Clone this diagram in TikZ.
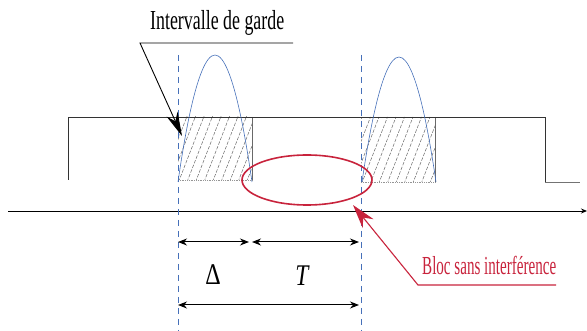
\documentclass[tikz,border=0pt]{standalone}
\usepackage{graphicx}
\usepackage{fontspec}
\setmainfont{Liberation Serif}
\usepackage{tikz}
\usetikzlibrary{arrows.meta,positioning,calc}
\definecolor{guardblue}{RGB}{70,112,185}
\definecolor{markred}{RGB}{200,35,60}
\definecolor{hatchgray}{RGB}{105,105,105}
\newcommand{\squeeze}[2]{\scalebox{#1}[1]{#2}}

\begin{document}
\begin{tikzpicture}[x=1pt, y=-1pt,
  sig/.style={draw=black!80, line width=0.8pt},
  marker/.style={guardblue, dash pattern=on 6pt off 5pt, line width=0.8pt},
  arch/.style={guardblue, line width=0.6pt},
  hatch/.style={hatchgray, line width=0.5pt, dash pattern=on 3.5pt off 1.5pt},
  dim/.style={{Stealth[length=9pt,width=7pt]}-{Stealth[length=9pt,width=7pt]}, line width=1pt},
  callout/.style={-{Stealth[length=24pt,width=12pt]}, line width=0.9pt},
  lbl/.style={inner sep=0pt, font=\fontsize{27.5}{30}\selectfont}
]
  \useasboundingbox (0,0) rectangle (587,331);

  % time axis
  \coordinate (axl) at (8,211);
  \coordinate (axr) at (587,211);
  \draw[-{Stealth[length=6pt,width=5pt]}, line width=0.9pt] (axl) -- (axr);

  % hatched guard intervals
  \begin{scope}
    \clip (178,117) rectangle (252,180);
    \foreach \k in {0,...,12} \draw[hatch] (153+8.5*\k,182) -- ++(26,-67);
  \end{scope}
  \begin{scope}
    \clip (361,117) rectangle (435,182);
    \foreach \k in {0,...,12} \draw[hatch] (336+8.5*\k,184) -- ++(26,-67);
  \end{scope}
  \draw[hatchgray, line width=0.6pt] (252,117) -- (252,180);
  \draw[hatchgray, line width=0.6pt] (435,117) -- (435,182);
  \draw[hatchgray!70, line width=0.8pt, densely dotted] (178,180) -- (252,180);
  \draw[hatchgray!70, line width=0.8pt, densely dotted] (361,182) -- (435,182);

  % signal
  \draw[sig] (68,180) -- (68,117) -- (545,117) -- (545,182);
  \draw[black!55, line width=0.9pt] (545,182) -- (580,182);

  % symbol boundaries
  \draw[marker] (178,55) -- (178,331);
  \draw[marker] (361,55) -- (361,331);

  % carriers
  \draw[arch] (178,182) parabola bend (215,55) (252,182);
  \draw[arch] (362,182) parabola bend (399,57) (436,182);

  % zone without interference
  \draw[markred, line width=1.6pt] (307,180) ellipse [x radius=65, y radius=25];

  % guard interval label
  \node[lbl, anchor=base west] (guard) at (150,30) {\squeeze{0.65}{Intervalle de garde}};
  \coordinate (gr) at (293,43);
  \coordinate (gl) at (140,43);
  \coordinate (gtip) at (182,136);
  \draw[callout] (gr) -- (gl) -- (gtip);

  % block label
  \node[lbl, anchor=base west, text=markred, font=\fontsize{26}{28}\selectfont] (bloc) at (422,275) {\squeeze{0.58}{Bloc sans interférence}};
  \coordinate (br) at (556,285);
  \coordinate (bl) at (418,285);
  \coordinate (btip) at (353,205);
  \draw[callout, markred, line width=1.1pt, -{Stealth[length=24pt,width=14pt]}] (br) -- (bl) -- (btip);

  % durations
  \coordinate (d0) at (178,242);
  \coordinate (d1) at (249,242);
  \coordinate (d2) at (252,242);
  \coordinate (d3) at (359,242);
  \coordinate (e0) at (178,305);
  \coordinate (e1) at (359,305);
  \draw[dim] (d0) -- (d1);
  \draw[dim] (d2) -- (d3);
  \draw[dim] (e0) -- (e1);
  \node[lbl, anchor=base, font=\fontsize{30}{32}\selectfont] (delta) at (213,285) {\squeeze{0.8}{Δ}};
  \node[lbl, anchor=base, font=\fontsize{30}{32}\selectfont] (period) at (302,286) {\squeeze{0.78}{\itshape T}};
\end{tikzpicture}
\end{document}
